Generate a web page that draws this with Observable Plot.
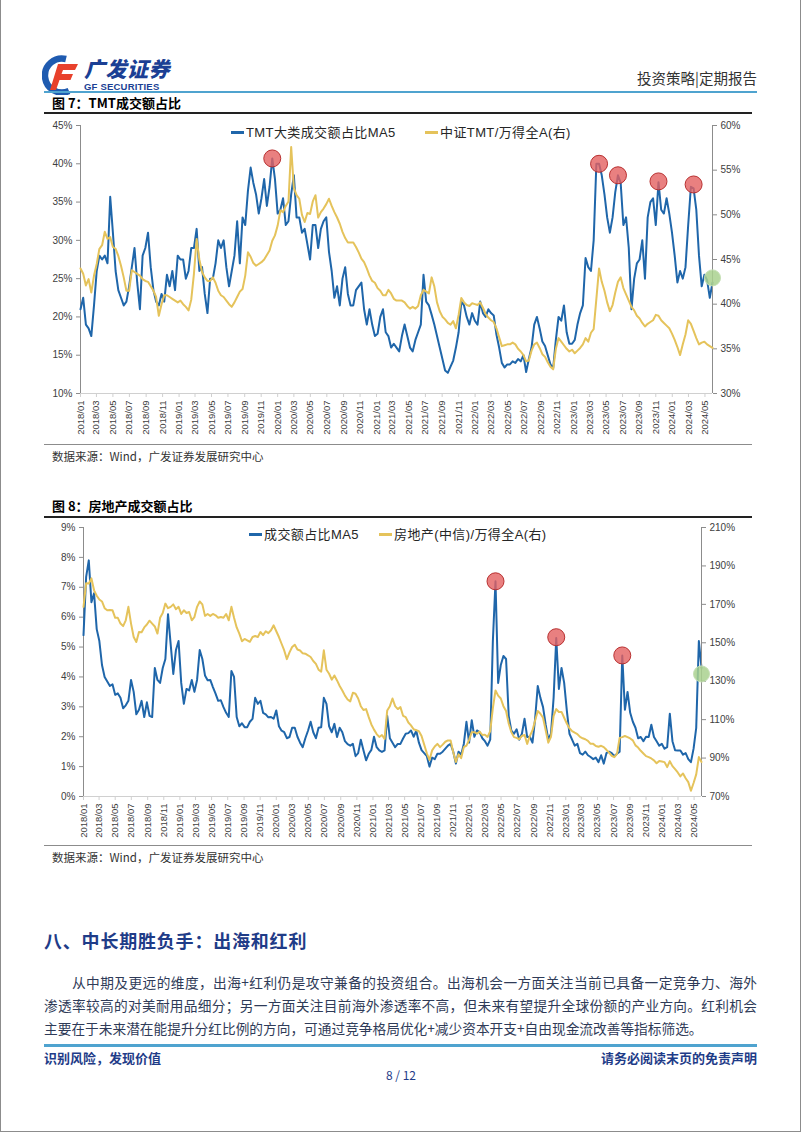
<!DOCTYPE html>
<html lang="zh-CN">
<head>
<meta charset="utf-8">
<title>TMT与房地产成交额占比</title>
<script src="https://cdn.jsdelivr.net/npm/d3@7"></script>
<script src="https://cdn.jsdelivr.net/npm/@observablehq/plot@0.6"></script>
<style>
html,body{margin:0;padding:0;background:#fff;}
#page{position:relative;width:802px;height:1133px;overflow:hidden;background:#fff;font-family:"Noto Sans CJK SC","Noto Sans",sans-serif;}
#frame{position:absolute;left:0;top:-2px;width:801px;height:1134px;border:1px solid #8c8c8c;box-sizing:border-box;}
.a{position:absolute;white-space:nowrap;}
.bar{position:absolute;}
.layer{position:absolute;left:0;top:0;}
.leg{position:absolute;white-space:nowrap;font-family:"Liberation Sans","Noto Sans CJK SC",sans-serif;font-size:13px;color:#262626;height:18px;line-height:18px;letter-spacing:0.4px;}
.leg i{display:inline-block;width:13px;height:2.5px;vertical-align:middle;margin-right:2px;position:relative;top:-1px;}
.para{position:absolute;font-size:13.7px;line-height:22px;height:22px;color:#2f3b58;white-space:nowrap;}
.just{text-align:justify;text-align-last:justify;white-space:normal;overflow:hidden;}
</style>
</head>
<body>
<div id="page">
  <div id="frame"></div>

  <!-- header -->
  <svg class="a" style="left:42px;top:55px" width="42" height="40" viewBox="0 0 42 40">
    <path d="M24 4 A17 17 0 1 0 27 36" fill="none" stroke="#1f5bb0" stroke-width="6.5"/>
    <path d="M16 9 L36 9 L33 15 L21 15 L19.5 19 L31 19 L28.5 25 L17.5 25 L14 35 L8 35 Z" fill="#e8412c"/>
  </svg>
  <div class="a" style="left:84px;top:56px;font-size:21px;line-height:24px;font-weight:900;color:#1b3f94;font-style:italic;letter-spacing:0.5px;">广发证券</div>
  <div class="a" style="left:84px;top:81px;font-size:9.5px;line-height:12px;font-weight:700;color:#1b3f94;font-family:'Liberation Sans',sans-serif;letter-spacing:0.2px;">GF SECURITIES</div>
  <div class="a" style="right:45px;top:68px;font-size:14.5px;line-height:20px;color:#333;">投资策略|定期报告</div>
  <div class="bar" style="left:44px;top:91px;width:713px;height:2px;background:#4fa3cf;"></div>

  <!-- figure 7 -->
  <div class="a" style="left:52px;top:94px;font-size:13px;line-height:18px;font-weight:700;color:#000;">图 7：TMT成交额占比</div>
  <div class="bar" style="left:44px;top:112px;width:708px;height:1.5px;background:#222;"></div>
  <div id="chart1" class="a" style="left:40px;top:115px;width:720px;height:330px;"></div>
  <div class="leg" style="left:231px;top:124px;"><i style="background:#1f66aa"></i>TMT大类成交额占比MA5</div>
  <div class="leg" style="left:425px;top:124px;"><i style="background:#e5c35b"></i>中证TMT/万得全A(右)</div>
  <div class="bar" style="left:44px;top:444px;width:708px;height:1px;background:#8c8c8c;"></div>
  <div class="a" style="left:52px;top:448px;font-size:11.5px;line-height:16px;color:#333;">数据来源：Wind，广发证券发展研究中心</div>

  <!-- figure 8 -->
  <div class="a" style="left:52px;top:497px;font-size:13px;line-height:18px;font-weight:700;color:#000;">图 8：房地产成交额占比</div>
  <div class="bar" style="left:44px;top:516px;width:708px;height:1.5px;background:#222;"></div>
  <div id="chart2" class="a" style="left:40px;top:517px;width:720px;height:330px;"></div>
  <div class="leg" style="left:249px;top:526px;"><i style="background:#1f66aa"></i>成交额占比MA5</div>
  <div class="leg" style="left:379px;top:526px;"><i style="background:#e5c35b"></i>房地产(中信)/万得全A(右)</div>
  <div class="bar" style="left:44px;top:845px;width:708px;height:1px;background:#8c8c8c;"></div>
  <div class="a" style="left:52px;top:849px;font-size:11.5px;line-height:16px;color:#333;">数据来源：Wind，广发证券发展研究中心</div>

  <!-- section -->
  <div class="a" style="left:44px;top:927px;font-size:18px;line-height:26px;font-weight:700;color:#1f3c88;letter-spacing:0.8px;">八、中长期胜负手：出海和红利</div>
  <div class="para just" style="left:72px;top:971px;width:685px;">从中期及更远的维度，出海+红利仍是攻守兼备的投资组合。出海机会一方面关注当前已具备一定竞争力、海外</div>
  <div class="para just" style="left:44px;top:994px;width:713px;">渗透率较高的对美耐用品细分；另一方面关注目前海外渗透率不高，但未来有望提升全球份额的产业方向。红利机会</div>
  <div class="para" style="left:44px;top:1017px;">主要在于未来潜在能提升分红比例的方向，可通过竞争格局优化+减少资本开支+自由现金流改善等指标筛选。</div>

  <!-- footer -->
  <div class="bar" style="left:44px;top:1044px;width:713px;height:2.5px;background:#4fa3cf;"></div>
  <div class="a" style="left:44px;top:1049px;font-size:13px;line-height:18px;font-weight:700;color:#1f3c88;">识别风险，发现价值</div>
  <div class="a" style="right:45px;top:1049px;font-size:13px;line-height:18px;font-weight:700;color:#1f3c88;">请务必阅读末页的免责声明</div>
  <div class="a" style="left:381px;width:40px;text-align:center;top:1066px;font-size:12px;line-height:18px;color:#1f3c88;">8 / 12</div>
</div>

<script>
// ---------- data (one value every 10 days from 2018-01-01) ----------
const tmtShare = [
  21, 22.5, 19, 18.5, 17.5, 21.5, 26, 28, 27.5, 28,
  27, 35.7, 31, 26, 23.5, 22.5, 21.5, 22, 24, 26.5,
  29, 24.5, 21, 28, 29, 31, 26.5, 23.5, 22, 21.5,
  23, 22, 25.5, 24, 26, 23.5, 28, 27.5, 27.5, 25,
  26, 29, 29, 31.5, 26, 26.5, 23, 20.5, 25, 25,
  27, 30, 29, 30, 26.5, 24, 26, 28, 32.5, 27,
  33, 32, 36.5, 39.5, 37.5, 36, 33.5, 35.5, 38, 34.5,
  37, 40.7, 38, 33.5, 34, 35.5, 32, 32.5, 36, 38.5,
  33, 33, 31, 31.5, 29.5, 27.5, 32, 32, 29, 31.5,
  32.5, 33, 28.5, 26, 22.5, 24, 21.5, 25, 26.5, 23,
  21.5, 21.5, 23.5, 24, 24.5, 21, 19, 21, 19, 17.5,
  17.8, 20, 21, 18, 17.5, 16, 16.5, 16, 15.5, 17.5,
  19, 17.5, 16, 15.5, 17, 18, 19, 25.5, 22, 21.5,
  20.3, 19, 17.5, 16, 14.5, 13, 12.7, 13.5, 14.3, 16,
  18, 22, 21.5, 20, 19, 20.5, 19.5, 19, 22, 20.5,
  20, 21, 20.5, 20.2, 17.7, 16, 14, 13.4, 13.8, 13.8,
  14.2, 14, 14.5, 14.2, 15, 12.8, 14.5, 16, 19, 20,
  18.5, 16.8, 16.2, 15, 13.8, 13.3, 17, 20, 19.5, 21.5,
  18, 16.5, 16.5, 17, 19, 20.5, 21.5, 27.7, 26.5, 26,
  30, 40, 40, 38.5, 36, 33, 31, 33, 36.3, 38.5,
  37.5, 32, 33, 29, 21, 25, 27, 27.5, 30, 25,
  33, 35, 35.5, 32, 37.6, 34, 33.5, 35.5, 33.5, 31,
  28, 24.5, 26, 25, 26.5, 32, 37, 36.8, 34, 28,
  24, 25.5, 24.8, 22.5, 24.5
];
const tmtRel = [
  44.0, 43.4, 42.1, 42.8, 41.3, 43.2, 44.5, 46.2, 46.6, 48.1,
  47.3, 47.5, 46.4, 46.2, 45.4, 44.3, 43.0, 41.5, 41.5, 43.8,
  43.6, 43.4, 43.2, 42.8, 42.6, 42.5, 42.0, 41.5, 40.8, 38.7,
  40.0, 41.0, 41.0, 40.8, 40.6, 40.4, 40.2, 40.4, 40.0, 39.7,
  39.3, 40.5, 43.4, 47.3, 45.0, 43.6, 43.0, 42.6, 42.6, 43.0,
  42.4, 41.5, 41.0, 40.8, 40.4, 40.0, 39.7, 40.2, 40.8, 41.4,
  41.7, 43.2, 45.8, 45.3, 44.6, 44.3, 44.5, 44.7, 45.0, 45.5,
  46.0, 47.1, 47.7, 48.8, 50.5, 50.3, 51.0, 51.5, 57.6, 53.0,
  52.2, 51.8, 50.0, 49.2, 50.2, 50.1, 51.5, 52.2, 49.7, 50.3,
  50.7, 51.2, 51.8, 51.0, 50.3, 49.7, 49.0, 48.1, 47.4, 46.9,
  46.9, 46.9, 46.4, 45.8, 45.1, 44.7, 44.0, 43.2, 42.6, 42.4,
  41.8, 41.5, 41.0, 41.0, 41.6, 41.2, 40.6, 40.4, 40.4, 40.4,
  40.2, 39.8, 39.5, 39.7, 39.5, 39.8, 41.0, 41.6, 41.4, 41.2,
  43.0, 42.0, 40.2, 39.2, 38.6, 38.3, 37.9, 37.7, 38.1, 37.3,
  38.8, 40.7, 40.2, 39.9, 39.8, 40.1, 40.0, 39.9, 40.2, 39.6,
  38.9, 38.5, 38.2, 38.0, 37.3, 36.3, 35.3, 35.4, 35.5, 35.5,
  35.7, 35.5, 35.0, 34.7, 34.3, 33.6, 33.7, 34.8, 35.5, 35.7,
  35.1, 34.4, 34.1, 33.5, 33.0, 32.7, 35.0, 36.2, 35.8, 35.4,
  35.0, 34.7, 34.9, 34.5, 34.8, 35.1, 35.5, 36.2, 35.8, 36.8,
  37.2, 40.6, 44.0, 42.5, 41.5, 40.2, 39.2, 39.9, 41.3, 42.5,
  43.0, 41.8, 41.1, 40.4, 39.7, 39.3, 38.7, 38.4, 37.9, 37.5,
  37.8, 38.0, 38.2, 38.8, 38.7, 38.2, 37.9, 37.6, 37.3, 36.7,
  36.0, 35.2, 34.3, 35.5, 36.6, 38.2, 37.8, 37.0, 36.2, 35.5,
  35.7, 35.8, 35.5, 35.3, 35.1
];
const reShare = [
  5.4, 7.35, 7.9, 6.5, 6.8, 5.6, 5.2, 4.4, 4.0, 3.85,
  3.7, 3.75, 3.4, 3.45, 3.3, 2.95, 3.05, 3.2, 3.9, 3.5,
  2.75, 2.9, 3.2, 2.66, 3.15, 2.7, 2.66, 4.3, 3.9, 3.8,
  4.3, 4.6, 6.1, 5.1, 4.1, 4.9, 5.2, 3.8, 3.1, 3.6,
  3.55, 3.9, 3.5, 3.9, 4.9, 4.6, 4.05, 3.89, 3.9, 3.66,
  3.44, 3.2, 3.22, 2.99, 2.8, 2.66, 4.2, 4.0, 2.66, 2.35,
  2.45, 2.32, 2.32, 2.5, 2.6, 3.3, 3.1, 3.2, 2.8, 2.75,
  2.65, 2.66, 2.6, 2.88, 2.35, 2.2, 2.15, 1.95, 1.99, 2.3,
  2.3, 2.0, 1.8, 1.65, 1.95, 2.2, 2.5, 2.15, 1.95, 2.3,
  2.32, 3.3, 3.1, 2.35, 2.15, 2.43, 1.99, 2.3, 2.15, 1.85,
  1.75, 1.7, 1.76, 1.35, 1.45, 1.9, 1.55, 1.21, 1.43, 1.56,
  2.0, 1.65, 1.54, 1.49, 1.54, 2.7, 1.95, 1.8, 1.65, 1.76,
  1.76, 1.94, 2.1, 2.12, 2.21, 2.0, 2.2, 1.8, 1.55, 1.45,
  1.35, 1.0, 1.3, 1.25, 1.43, 1.43, 1.5, 1.6, 1.7, 1.76,
  1.5, 1.1, 1.5, 1.4, 1.76, 2.5, 1.8, 2.55, 2.0, 2.21,
  2.15, 1.95, 1.85, 1.7, 1.9, 5.2, 7.2, 3.8, 4.4, 4.7,
  4.6, 2.7, 2.2, 2.1, 2.25, 1.9, 2.1, 2.6, 1.99, 2.0,
  1.8, 2.6, 3.7, 3.3, 2.99, 2.4, 1.9, 2.1, 3.3, 5.3,
  3.6, 4.3, 3.8, 2.88, 2.1, 1.9, 1.7, 1.76, 1.45, 1.4,
  1.5, 1.38, 1.32, 1.25, 1.3, 1.15, 1.38, 1.1, 1.45, 1.5,
  1.45, 1.35, 1.43, 1.5, 4.72, 2.9, 3.5, 2.8, 2.5, 2.3,
  1.95, 1.99, 1.85, 2.0, 1.99, 2.4, 1.99, 1.85, 1.7, 1.76,
  1.6, 1.65, 2.77, 1.85, 1.55, 1.54, 1.54, 1.4, 1.45, 1.25,
  1.15, 1.6, 2.3, 5.2, 4.3
];
const reRel = [
  168.7, 181, 180.8, 183.5, 177.3, 174.5, 172.5, 171.5, 168, 166.9,
  167, 166.9, 163, 163, 160, 158.7, 161.7, 168.7, 160, 153,
  150.4, 155.6, 155.5, 158, 159.5, 161.5, 160, 158.5, 154.8, 163,
  165.5, 170.4, 168, 168.7, 170, 167.5, 168.7, 165, 166.9, 165.5,
  166, 161.7, 163.4, 168.7, 171.5, 170, 164, 165, 164, 165,
  164.3, 163, 163.4, 163, 165, 161.7, 168.7, 163, 158, 154.8,
  150.8, 152, 151.3, 150.5, 153, 153.5, 153, 155.6, 154, 156,
  155, 156.5, 159.1, 156, 153, 149.5, 146, 141.5, 145, 147.8,
  149, 146.5, 146, 144.5, 144.3, 143.5, 142.6, 140.5, 139, 136,
  135, 146.1, 136, 133.9, 130.8, 133, 130.4, 127.5, 125.2, 122.5,
  120.5, 119.5, 124, 123.5, 121, 117, 115, 115.5, 111.3, 107.5,
  104.8, 102.5, 101, 102, 100, 114.8, 117, 121, 117, 115.5,
  116.5, 112, 111.3, 108.5, 107, 105, 104.5, 104, 101.5, 97,
  92.5, 89, 94, 96, 97.4, 95.7, 97, 98.5, 99.2, 99.2,
  93, 88, 92, 90, 95.7, 96.5, 99.5, 103.5, 103.5, 102.7,
  103.8, 102, 102.2, 101, 104, 116, 125.2, 122.5, 121, 117,
  114.5, 108, 103.5, 100.9, 100.5, 99.8, 101.5, 102, 97.4, 101.5,
  104.4, 109.5, 114.5, 113.1, 111, 104.5, 98, 101, 112, 115.5,
  114, 114, 111, 108, 105.5, 104, 103.2, 102.5, 101, 100.3,
  99.8, 99, 97.4, 97.4, 96.3, 95.9, 96.4, 95.7, 94.3, 92.8,
  91.2, 90.5, 92.2, 100.5, 100.9, 101.5, 100.9, 100.2, 99.2, 96.6,
  95.5, 93.8, 92.4, 91, 90.5, 89.8, 88.8, 87.3, 88.5, 88.2,
  87.9, 85.3, 88.4, 85.8, 84.2, 82.5, 80.5, 82, 79.5, 77.5,
  73, 77, 81.5, 90.5, 88
];
// highlighted points (index in the 10-day series, value on left axis)
const tmtPeakIdx = [71, 192, 199, 214, 227];
const tmtPeakVal = [40.7, 40.0, 38.5, 37.7, 37.3];
const tmtNowIdx = [234];
const tmtNowVal = [25.1];
const rePeakIdx = [156, 179, 204];
const rePeakVal = [7.2, 5.33, 4.72];
const reNowIdx = [234];
const reNowVal = [4.1];
// axis ticks
const tmtLeftTicks = [10, 15, 20, 25, 30, 35, 40, 45];
const tmtRightTicks = [30, 35, 40, 45, 50, 55, 60];
const reLeftTicks = [0, 1, 2, 3, 4, 5, 6, 7, 8, 9];
const reRightTicks = [70, 90, 110, 130, 150, 170, 190, 210];

// ---------- helpers ----------
const startUTC = Date.UTC(2018, 0, 1);
const stepDays = 10;
const dateAt = i => new Date(startUTC + i * stepDays * 86400000);
const toRows = vals => vals.map((v, i) => ({date: dateAt(i), v}));
const xDomain = [dateAt(0), dateAt(tmtShare.length - 1)];
const xTicks = d3.utcMonth.every(2).range(new Date(startUTC), new Date(Date.UTC(2024, 5, 1)));
const fmtMonth = d3.utcFormat("%Y/%m");
const BLUE = "#1f66aa", GOLD = "#e5c35b", AXIS = "#8c8c8c";

function baseStyle() {
  return {background: "transparent", fontFamily: '"Liberation Sans", Arial, sans-serif',
          fontSize: "10px", color: "#404040", overflow: "visible"};
}

function drawDual(host, cfg) {
  const dims = {width: 720, height: 330, marginLeft: cfg.mL, marginRight: cfg.mR,
                marginTop: cfg.mT, marginBottom: cfg.mB};
  const left = Plot.plot({
    ...dims, style: baseStyle(),
    x: {type: "utc", domain: xDomain},
    y: {domain: cfg.leftDomain},
    marks: [
      Plot.ruleY([cfg.leftDomain[0]], {stroke: "#d0d0d0"}),
      Plot.ruleX([xDomain[0]], {stroke: AXIS}),
      Plot.axisY({ticks: cfg.leftTicks, tickFormat: d => d + "%", tickSize: 4, tickPadding: 4, stroke: AXIS, label: null}),
      Plot.axisX({ticks: xTicks, tickFormat: fmtMonth, tickRotate: -90, tickSize: 4, tickPadding: 3,
                  stroke: "#d0d0d0", fontSize: 9.5, label: null}),
      Plot.lineY(toRows(cfg.left), {x: "date", y: "v", stroke: BLUE, strokeWidth: 2})
    ]
  });
  const right = Plot.plot({
    ...dims, style: baseStyle(),
    x: {type: "utc", domain: xDomain, axis: null},
    y: {domain: cfg.rightDomain},
    marks: [
      Plot.ruleX([xDomain[1]], {stroke: AXIS}),
      Plot.axisY({anchor: "right", ticks: cfg.rightTicks, tickFormat: d => d + "%", tickSize: 4, tickPadding: 4, stroke: AXIS, label: null}),
      Plot.lineY(toRows(cfg.right), {x: "date", y: "v", stroke: GOLD, strokeWidth: 2})
    ]
  });
  const peaks = cfg.peakIdx.map((i, k) => ({date: dateAt(i), v: cfg.peakVal[k]}));
  const now = cfg.nowIdx.map((i, k) => ({date: dateAt(i), v: cfg.nowVal[k]}));
  const marks = Plot.plot({
    ...dims, style: baseStyle(),
    x: {type: "utc", domain: xDomain, axis: null},
    y: {domain: cfg.leftDomain, axis: null},
    marks: [
      Plot.dot(peaks, {x: "date", y: "v", r: 8.5, fill: "#e46060", fillOpacity: 0.8, stroke: "#b83030", strokeWidth: 1}),
      Plot.dot(now, {x: "date", y: "v", r: 8, fill: "#a9d18e", fillOpacity: 0.85, stroke: "#c5e0b4", strokeWidth: 1})
    ]
  });
  for (const svg of [left, right, marks]) { svg.classList.add("layer"); host.appendChild(svg); }
}

drawDual(document.getElementById("chart1"), {
  mL: 40, mR: 48, mT: 10, mB: 52,
  leftDomain: [10, 45], leftTicks: tmtLeftTicks, left: tmtShare,
  rightDomain: [30, 60], rightTicks: tmtRightTicks, right: tmtRel,
  peakIdx: tmtPeakIdx, peakVal: tmtPeakVal, nowIdx: tmtNowIdx, nowVal: tmtNowVal
});
drawDual(document.getElementById("chart2"), {
  mL: 43, mR: 59, mT: 10, mB: 51,
  leftDomain: [0, 9], leftTicks: reLeftTicks, left: reShare,
  rightDomain: [70, 210], rightTicks: reRightTicks, right: reRel,
  peakIdx: rePeakIdx, peakVal: rePeakVal, nowIdx: reNowIdx, nowVal: reNowVal
});
</script>
</body>
</html>
